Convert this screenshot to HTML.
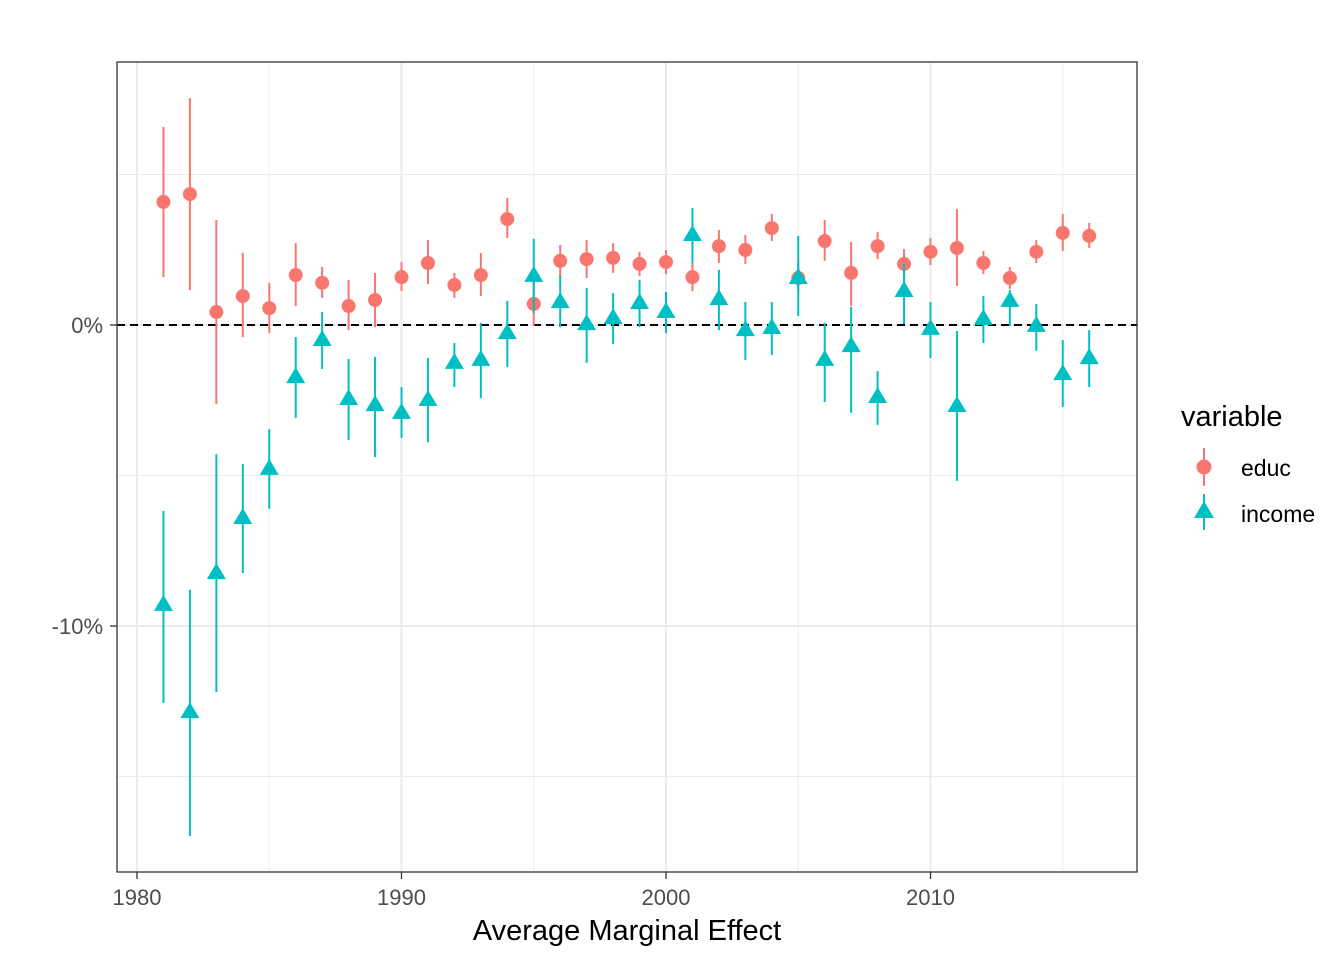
<!DOCTYPE html>
<html><head><meta charset="utf-8">
<style>
html,body{margin:0;padding:0;background:#fff;}
svg{display:block;font-family:"Liberation Sans",Arial,sans-serif;}
</style></head>
<body>
<svg id="chart" width="1344" height="960">
  <rect x="117" y="62" width="1020" height="810" fill="#fff"/>
  <g id="grid"></g>
  <g id="marks"></g>
  <rect x="117" y="62" width="1020" height="810" fill="none" stroke="#333" stroke-width="1.3"/>
  <g id="axes"></g>
  <text x="627" y="940" font-size="29" text-anchor="middle" fill="#000">Average Marginal Effect</text>
  <g>
    <text x="1181" y="426" font-size="29" fill="#000">variable</text>
    <g>
      <line x1="1204" y1="448" x2="1204" y2="486" stroke="#F8766D" stroke-width="2"/>
      <circle cx="1204" cy="467" r="7.5" fill="#F8766D"/>
      <text x="1241" y="476" font-size="23" fill="#000">educ</text>
    </g>
    <g>
      <line x1="1204" y1="494" x2="1204" y2="530" stroke="#00BFC4" stroke-width="2"/>
      <polygon points="1204,501 1214,518 1194,518" fill="#00BFC4"/>
      <text x="1241" y="522" font-size="23" fill="#000">income</text>
    </g>
  </g>
</svg>
<script>
const years = [1981,1982,1983,1984,1985,1986,1987,1988,1989,1990,1991,1992,1993,1994,1995,1996,1997,1998,1999,2000,2001,2002,2003,2004,2005,2006,2007,2008,2009,2010,2011,2012,2013,2014,2015,2016];
const educMid = [4.09,4.35,0.43,0.96,0.56,1.66,1.40,0.63,0.83,1.59,2.06,1.33,1.66,3.52,0.70,2.13,2.19,2.23,2.03,2.09,1.59,2.62,2.49,3.22,1.56,2.79,1.73,2.62,2.03,2.43,2.56,2.06,1.56,2.43,3.06,2.96];
const educLo = [1.59,1.16,-2.62,-0.40,-0.27,0.63,0.90,-0.17,-0.07,1.13,1.36,0.90,0.96,2.89,-0.03,1.59,1.56,1.73,1.63,1.69,1.13,2.06,2.03,2.79,1.06,2.13,0.63,2.19,1.53,1.99,1.30,1.69,1.20,2.06,2.46,2.56];
const educHi = [6.58,7.54,3.49,2.39,1.40,2.72,1.93,1.50,1.73,2.09,2.82,1.73,2.39,4.22,1.43,2.66,2.82,2.72,2.43,2.49,2.09,3.16,2.99,3.69,2.09,3.49,2.76,3.09,2.52,2.89,3.85,2.46,1.93,2.82,3.69,3.39];
const incMid = [-9.30,-12.86,-8.24,-6.41,-4.78,-1.73,-0.50,-2.46,-2.66,-2.92,-2.49,-1.26,-1.16,-0.27,1.63,0.76,0.03,0.23,0.73,0.43,2.99,0.86,-0.17,-0.10,1.56,-1.16,-0.70,-2.39,1.13,-0.13,-2.69,0.20,0.80,-0.03,-1.63,-1.10];
const incLo = [-12.56,-16.98,-12.19,-8.24,-6.11,-3.09,-1.46,-3.82,-4.39,-3.75,-3.89,-2.06,-2.43,-1.40,0.40,-0.07,-1.26,-0.63,-0.07,-0.27,2.06,-0.17,-1.16,-1.00,0.30,-2.56,-2.92,-3.32,0.03,-1.10,-5.18,-0.60,-0.03,-0.86,-2.72,-2.06];
const incHi = [-6.18,-8.80,-4.29,-4.62,-3.46,-0.40,0.43,-1.13,-1.06,-2.06,-1.10,-0.60,0.07,0.80,2.86,1.66,1.23,1.06,1.50,1.10,3.89,1.83,0.76,0.76,2.96,0.07,0.60,-1.53,2.03,0.76,-0.20,0.96,1.16,0.70,-0.50,-0.17];
const xTicks = [1980,1990,2000,2010];
const xMinor = [1985,1995,2005,2015];
const yTicks = [0,-10];
const yTickLabels = ["0%","-10%"];
const yMinor = [5,-5,-15];

const NS="http://www.w3.org/2000/svg";
const sx = v => 137 + (v-1980)*26.45;
const sy = v => 325 - v*30.1;
function mk(tag, attrs, parent){const e=document.createElementNS(NS,tag);for(const k in attrs)e.setAttribute(k,attrs[k]);parent.appendChild(e);return e;}
const grid=document.getElementById('grid'), marks=document.getElementById('marks'), axes=document.getElementById('axes');

xMinor.forEach(v=>{const l=mk('line',{x1:sx(v),x2:sx(v),y1:62,y2:872,stroke:'#ebebeb','stroke-width':1},grid);

});
yMinor.forEach(v=>{const l=mk('line',{x1:117,x2:1137,y1:sy(v),y2:sy(v),stroke:'#ebebeb','stroke-width':1},grid);

});
xTicks.forEach(v=>{const l=mk('line',{x1:sx(v),x2:sx(v),y1:62,y2:872,stroke:'#ebebeb','stroke-width':2},grid);

});
yTicks.forEach(v=>{const l=mk('line',{x1:117,x2:1137,y1:sy(v),y2:sy(v),stroke:'#ebebeb','stroke-width':2},grid);

});

const zl=mk('line',{x1:117,x2:1137,y1:sy(0),y2:sy(0),stroke:'#000','stroke-width':2,'stroke-dasharray':'8,5'},marks);



years.forEach((yr,i)=>{
  const x=sx(yr);
  const eb=mk('line',{x1:x,x2:x,y1:sy(educLo[i]),y2:sy(educHi[i]),stroke:'#F8766D','stroke-width':2},marks);
  
  
  const ep=mk('circle',{cx:x,cy:sy(educMid[i]),r:7,fill:'#F8766D'},marks);
  
  
  const ib=mk('line',{x1:x,x2:x,y1:sy(incLo[i]),y2:sy(incHi[i]),stroke:'#00BFC4','stroke-width':2},marks);
  
  
  const cy=sy(incMid[i]);
  const ip=mk('polygon',{points:`${x},${cy-10} ${x+9.5},${cy+6} ${x-9.5},${cy+6}`,fill:'#00BFC4'},marks);
  
  
});

xTicks.forEach(v=>{
  const t=mk('line',{x1:sx(v),x2:sx(v),y1:872,y2:879,stroke:'#333','stroke-width':1.3},axes);
  
  
  const l=mk('text',{x:sx(v),y:905,'font-size':22,'text-anchor':'middle',fill:'#4d4d4d'},axes);
  l.textContent=String(v);
  
  
});
yTicks.forEach((v,i)=>{
  const t=mk('line',{x1:110,x2:117,y1:sy(v),y2:sy(v),stroke:'#333','stroke-width':1.3},axes);
  
  
  const l=mk('text',{x:103,y:sy(v)+8,'font-size':22,'text-anchor':'end',fill:'#4d4d4d'},axes);
  l.textContent=yTickLabels[i];
  
  
});
</script>
</body></html>
